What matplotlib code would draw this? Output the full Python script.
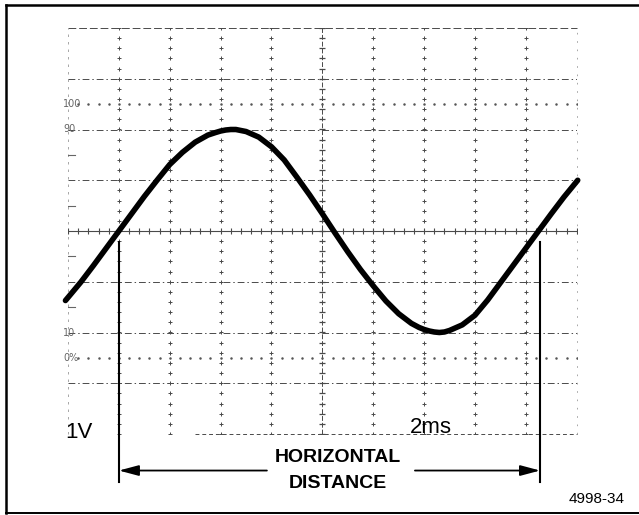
import matplotlib
matplotlib.use("Agg")
import matplotlib.pyplot as plt
import numpy as np
from matplotlib.lines import Line2D

# ---------------------------------------------------------
# data (graticule divisions: x 0..10, y -4..4)
# ---------------------------------------------------------
wave_x = [-0.05, 0.0, 0.25, 0.5, 0.75, 1.0, 1.25, 1.5, 1.75, 2.0, 2.25, 2.5,
          2.75, 2.9, 3.0, 3.1, 3.2, 3.3, 3.4, 3.5, 3.75, 4.0, 4.25, 4.5, 4.75,
          5.0, 5.25, 5.5, 5.75, 6.0, 6.25, 6.5, 6.75, 6.9, 7.0, 7.1, 7.2,
          7.3, 7.4, 7.5, 7.75, 8.0, 8.25, 8.5, 8.75, 9.0, 9.25, 9.5, 9.75, 10.02]
wave_y = [-1.37, -1.31, -1.01, -0.68, -0.34, 0.0, 0.34, 0.68, 1.00, 1.31, 1.55,
          1.75, 1.89, 1.94, 1.97, 1.99, 2.00, 2.00, 1.98, 1.96, 1.85, 1.66,
          1.40, 1.06, 0.71, 0.34, -0.04, -0.41, -0.76, -1.08, -1.38, -1.63,
          -1.82, -1.90, -1.94, -1.97, -1.99, -2.00, -1.99, -1.96, -1.85, -1.66,
          -1.36, -1.02, -0.68, -0.34, 0.0, 0.34, 0.67, 1.00]

level_labels = ["100", "90", "10", "0%"]
level_y = [2.5, 2.0, -2.0, -2.5]

n_hdiv = 10
n_vdiv = 8
marker_x = [1.0, 9.28]          # where the measurement lines are dropped

volts_label = "1V"
time_label = "2ms"
figure_id = "4998-34"

# ---------------------------------------------------------
# figure
# ---------------------------------------------------------
W, H = 639, 515
fig = plt.figure(figsize=(W / 100, H / 100), dpi=100)
fig.patch.set_facecolor("white")

# outer frame (right side is cut off in the original)
fig.add_artist(Line2D([6 / W, 1.0], [1 - 5 / H, 1 - 5 / H], color="black", lw=1.8))
fig.add_artist(Line2D([6 / W, 6 / W], [1 - 5 / H, 1 - 513 / H], color="black", lw=1.8))
fig.add_artist(Line2D([6 / W, 1.0], [1 - 513 / H, 1 - 513 / H], color="black", lw=1.4))

ax = fig.add_axes([68 / W, 1 - 434 / H, 508.7 / W, 406 / H])
ax.set_xlim(0, n_hdiv)
ax.set_ylim(-n_vdiv / 2, n_vdiv / 2)
ax.axis("off")

grid_col = "#4a4a4a"
steps_y = np.arange(-4, 4.01, 0.2)
steps_x = np.arange(0, 10.01, 0.2)

# graticule border, faint
ax.plot([0, 10], [4, 4], color=grid_col, lw=0.7, ls=(0, (8, 3)), clip_on=False)
ax.plot([0, 0], [-4, 4], color="#999999", lw=0.6, ls=(0, (3, 6)), clip_on=False)
ax.plot([10, 10], [-4, 4], color="#999999", lw=0.6, ls=(0, (2, 8)), clip_on=False)
ax.plot([2.5, 10], [-4, -4], color=grid_col, lw=0.7, ls=(0, (4, 3)), clip_on=False)

# vertical grid lines: dotted
for gx in range(1, n_hdiv):
    if gx == n_hdiv // 2:
        continue
    ax.plot(np.full_like(steps_y, gx), steps_y, ls="none", marker="+",
            ms=2.2, mew=0.7, color=grid_col)

# horizontal grid lines: dash-dot
for gy in range(-3, 4):
    if gy == 0:
        continue
    ax.plot([0, 10], [gy, gy], color=grid_col, lw=0.7, ls=(0, (7, 3, 1.5, 3)))

# center lines with minor ticks
ax.plot([5, 5], [-4, 4], color=grid_col, lw=0.7, ls=(0, (5, 2)))
ax.plot(np.full_like(steps_y, 5), steps_y, ls="none", marker="_", ms=4.5,
        mew=0.9, color=grid_col)
ax.plot([0, 10], [0, 0], color=grid_col, lw=0.8)
ax.plot(steps_x, np.zeros_like(steps_x), ls="none", marker="|", ms=4.0,
        mew=0.8, color=grid_col)

# 0% / 100% dotted lines
for ly in (2.5, -2.5):
    ax.plot(steps_x[1:], np.full_like(steps_x[1:], ly), ls="none", marker=".",
            ms=1.6, color="#555555")

# half-division ticks on left edge
for ty in (1.5, 0.5, -0.5, -1.5):
    ax.plot([0, 0.14], [ty, ty], color="#666666", lw=0.8)

# level labels
for lab, ly in zip(level_labels, level_y):
    ax.text(-0.1, ly, lab, fontsize=7, color="#666666", ha="left",
            va="center", family="Liberation Sans Narrow")

# the waveform
ax.plot(wave_x, wave_y, color="black", lw=4.0, solid_capstyle="round",
        solid_joinstyle="round", clip_on=False, zorder=5)

# measurement lines
for mx in marker_x:
    ax.plot([mx, mx], [-0.21, -4.95], color="black", lw=1.5, clip_on=False, zorder=4)

arrow_y = -4.72
ax.annotate("", xy=(marker_x[0], arrow_y), xytext=(3.91, arrow_y),
            arrowprops=dict(arrowstyle="-|>,head_length=1.2,head_width=0.32",
                            color="black", lw=1.3, shrinkA=0, shrinkB=0),
            annotation_clip=False)
ax.annotate("", xy=(marker_x[1], arrow_y), xytext=(6.82, arrow_y),
            arrowprops=dict(arrowstyle="-|>,head_length=1.2,head_width=0.32",
                            color="black", lw=1.3, shrinkA=0, shrinkB=0),
            annotation_clip=False)

ax.text(5.31, -4.47, "HORIZONTAL", fontsize=14, fontweight="bold",
        family="Liberation Sans", ha="center", va="center", clip_on=False)
ax.text(5.31, -4.97, "DISTANCE", fontsize=14, fontweight="bold",
        family="Liberation Sans", ha="center", va="center", clip_on=False)

ax.text(-0.06, -4.07, volts_label, fontsize=16, family="Liberation Sans",
        ha="left", va="baseline", clip_on=False)
ax.text(6.72, -3.99, time_label, fontsize=16, family="Liberation Sans",
        ha="left", va="baseline", clip_on=False)
ax.text(10.95, -5.28, figure_id, fontsize=11, family="Liberation Sans",
        ha="right", va="center", clip_on=False)

fig.savefig("out.png", dpi=100, facecolor="white")
plt.close(fig)
